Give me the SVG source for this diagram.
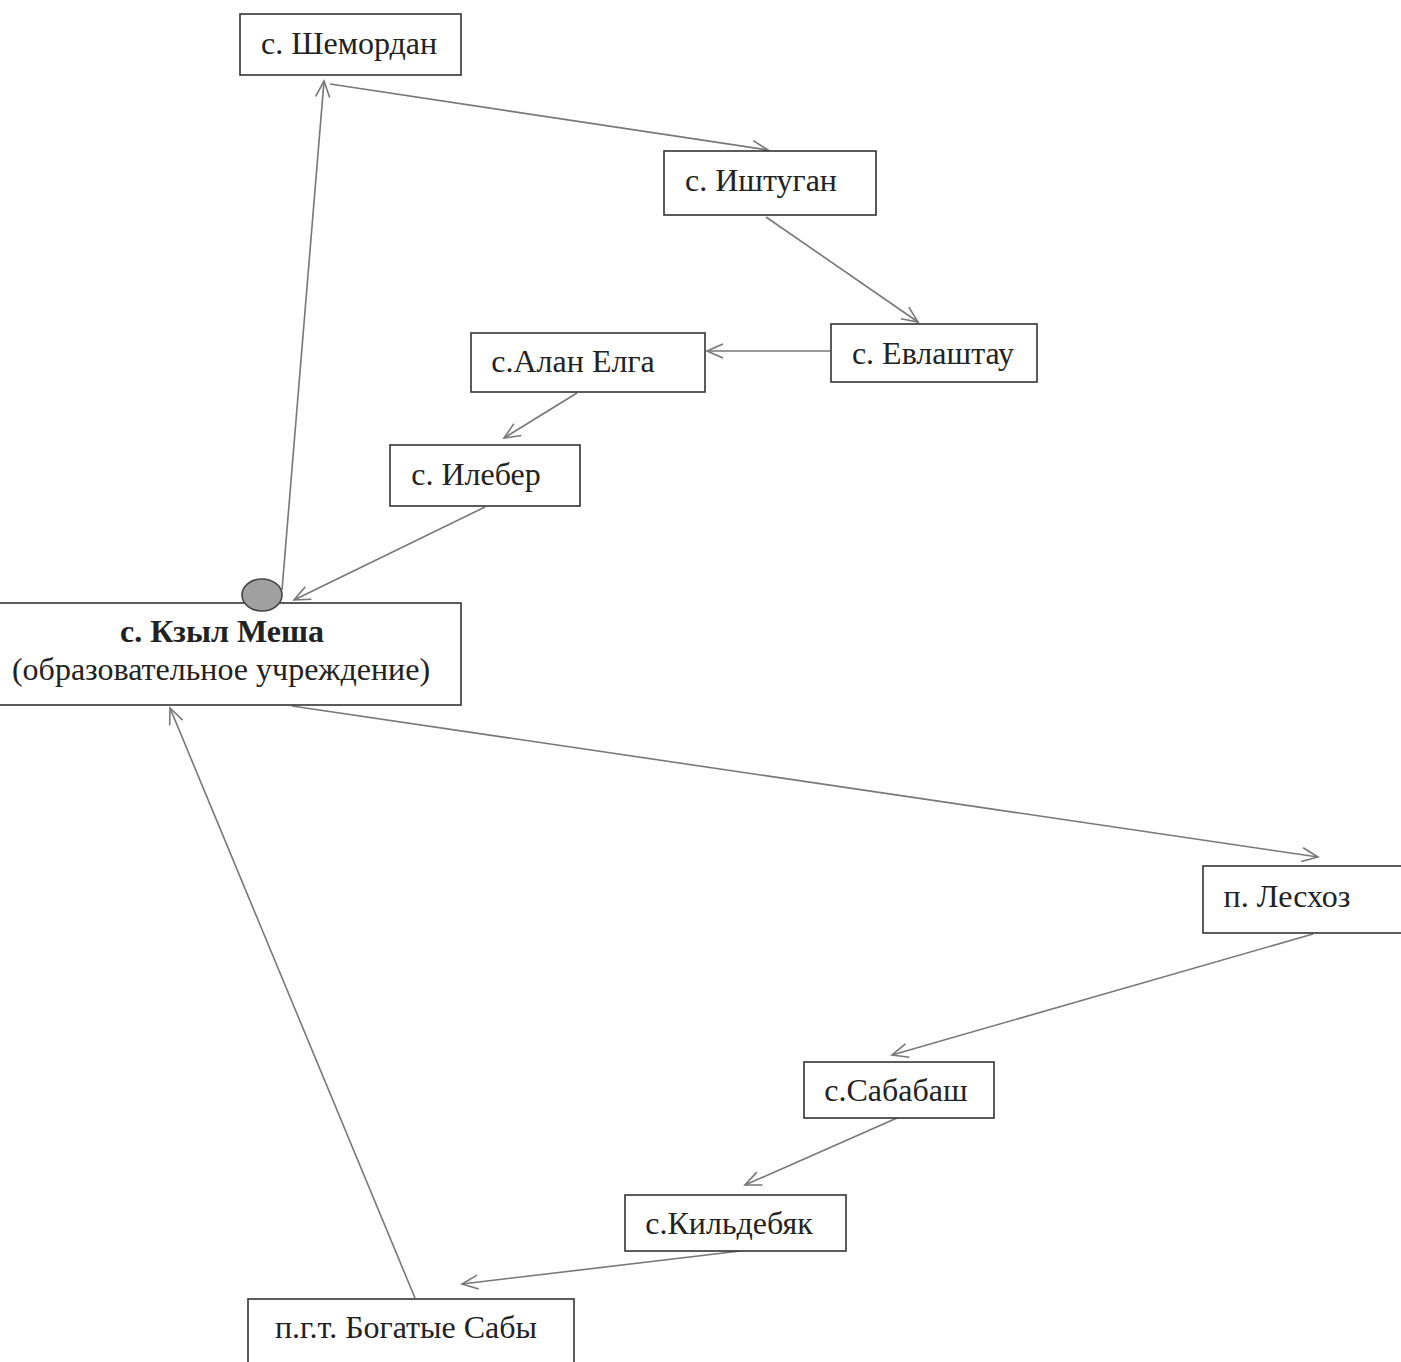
<svg xmlns="http://www.w3.org/2000/svg" width="1401" height="1362" viewBox="0 0 1401 1362">
<style>
.box{fill:#fff;stroke:#333;stroke-width:1.6}
.lbl{font-family:"Liberation Serif","Times New Roman",serif;font-size:32px;fill:#222}
.bold{font-weight:bold}
.con{fill:none;stroke:#777;stroke-width:1.6}
</style>
<defs>
<marker id="arr" viewBox="-18 -9 20 18" refX="0" refY="0" markerWidth="20" markerHeight="18" markerUnits="userSpaceOnUse" orient="auto">
<path d="M-16,-7 L0,0 L-16,7" fill="none" stroke="#777" stroke-width="1.6"/>
</marker>
</defs>
<rect width="1401" height="1362" fill="#fff"/>
<g id="connectors">
<line class="con" x1="282" y1="590" x2="324" y2="81" marker-end="url(#arr)"/>
<line class="con" x1="330" y1="84" x2="768" y2="150" marker-end="url(#arr)"/>
<line class="con" x1="766" y1="217" x2="918" y2="322" marker-end="url(#arr)"/>
<line class="con" x1="830" y1="351" x2="707" y2="351" marker-end="url(#arr)"/>
<line class="con" x1="577" y1="393" x2="504" y2="438" marker-end="url(#arr)"/>
<line class="con" x1="485" y1="507" x2="294" y2="600" marker-end="url(#arr)"/>
<line class="con" x1="292" y1="706" x2="1318" y2="857" marker-end="url(#arr)"/>
<line class="con" x1="1313" y1="934" x2="892" y2="1055" marker-end="url(#arr)"/>
<line class="con" x1="897" y1="1118" x2="745" y2="1185" marker-end="url(#arr)"/>
<line class="con" x1="740" y1="1251" x2="462" y2="1284" marker-end="url(#arr)"/>
<line class="con" x1="415" y1="1298" x2="170" y2="708" marker-end="url(#arr)"/>
</g>
<g id="shemordan">
<rect class="box" x="240" y="14" width="221" height="61"/>
<text class="lbl" x="349" y="54" text-anchor="middle">с. Шемордан</text>
</g>
<g id="ishtugan">
<rect class="box" x="664" y="151" width="212" height="64"/>
<text class="lbl" x="761" y="191" text-anchor="middle">с. Иштуган</text>
</g>
<g id="evlashtau">
<rect class="box" x="831" y="324" width="206" height="58"/>
<text class="lbl" x="933" y="364" text-anchor="middle">с. Евлаштау</text>
</g>
<g id="alan-elga">
<rect class="box" x="471" y="333" width="234" height="59"/>
<text class="lbl" x="573" y="372" text-anchor="middle">с.Алан Елга</text>
</g>
<g id="ileber">
<rect class="box" x="390" y="445" width="190" height="61"/>
<text class="lbl" x="476" y="485" text-anchor="middle">с. Илебер</text>
</g>
<g id="kzyl-mesha">
<rect class="box" x="-2" y="603" width="463" height="102"/>
<text class="lbl bold" x="222" y="642" text-anchor="middle">с. Кзыл Меша</text>
<text class="lbl" x="221" y="680" text-anchor="middle">(образовательное учреждение)</text>
<ellipse cx="262" cy="595" rx="20" ry="16" fill="#a0a0a0" stroke="#444" stroke-width="1.6"/>
</g>
<g id="leskhoz">
<rect class="box" x="1203" y="866" width="210" height="67"/>
<text class="lbl" x="1287" y="907" text-anchor="middle">п. Лесхоз</text>
</g>
<g id="sababash">
<rect class="box" x="804" y="1062" width="190" height="56"/>
<text class="lbl" x="896" y="1101" text-anchor="middle">с.Сабабаш</text>
</g>
<g id="kildebyak">
<rect class="box" x="625" y="1195" width="221" height="56"/>
<text class="lbl" x="729" y="1234" text-anchor="middle">с.Кильдебяк</text>
</g>
<g id="bogatye-saby">
<rect class="box" x="248" y="1299" width="326" height="66"/>
<text class="lbl" x="406" y="1338" text-anchor="middle">п.г.т. Богатые Сабы</text>
</g>
</svg>
